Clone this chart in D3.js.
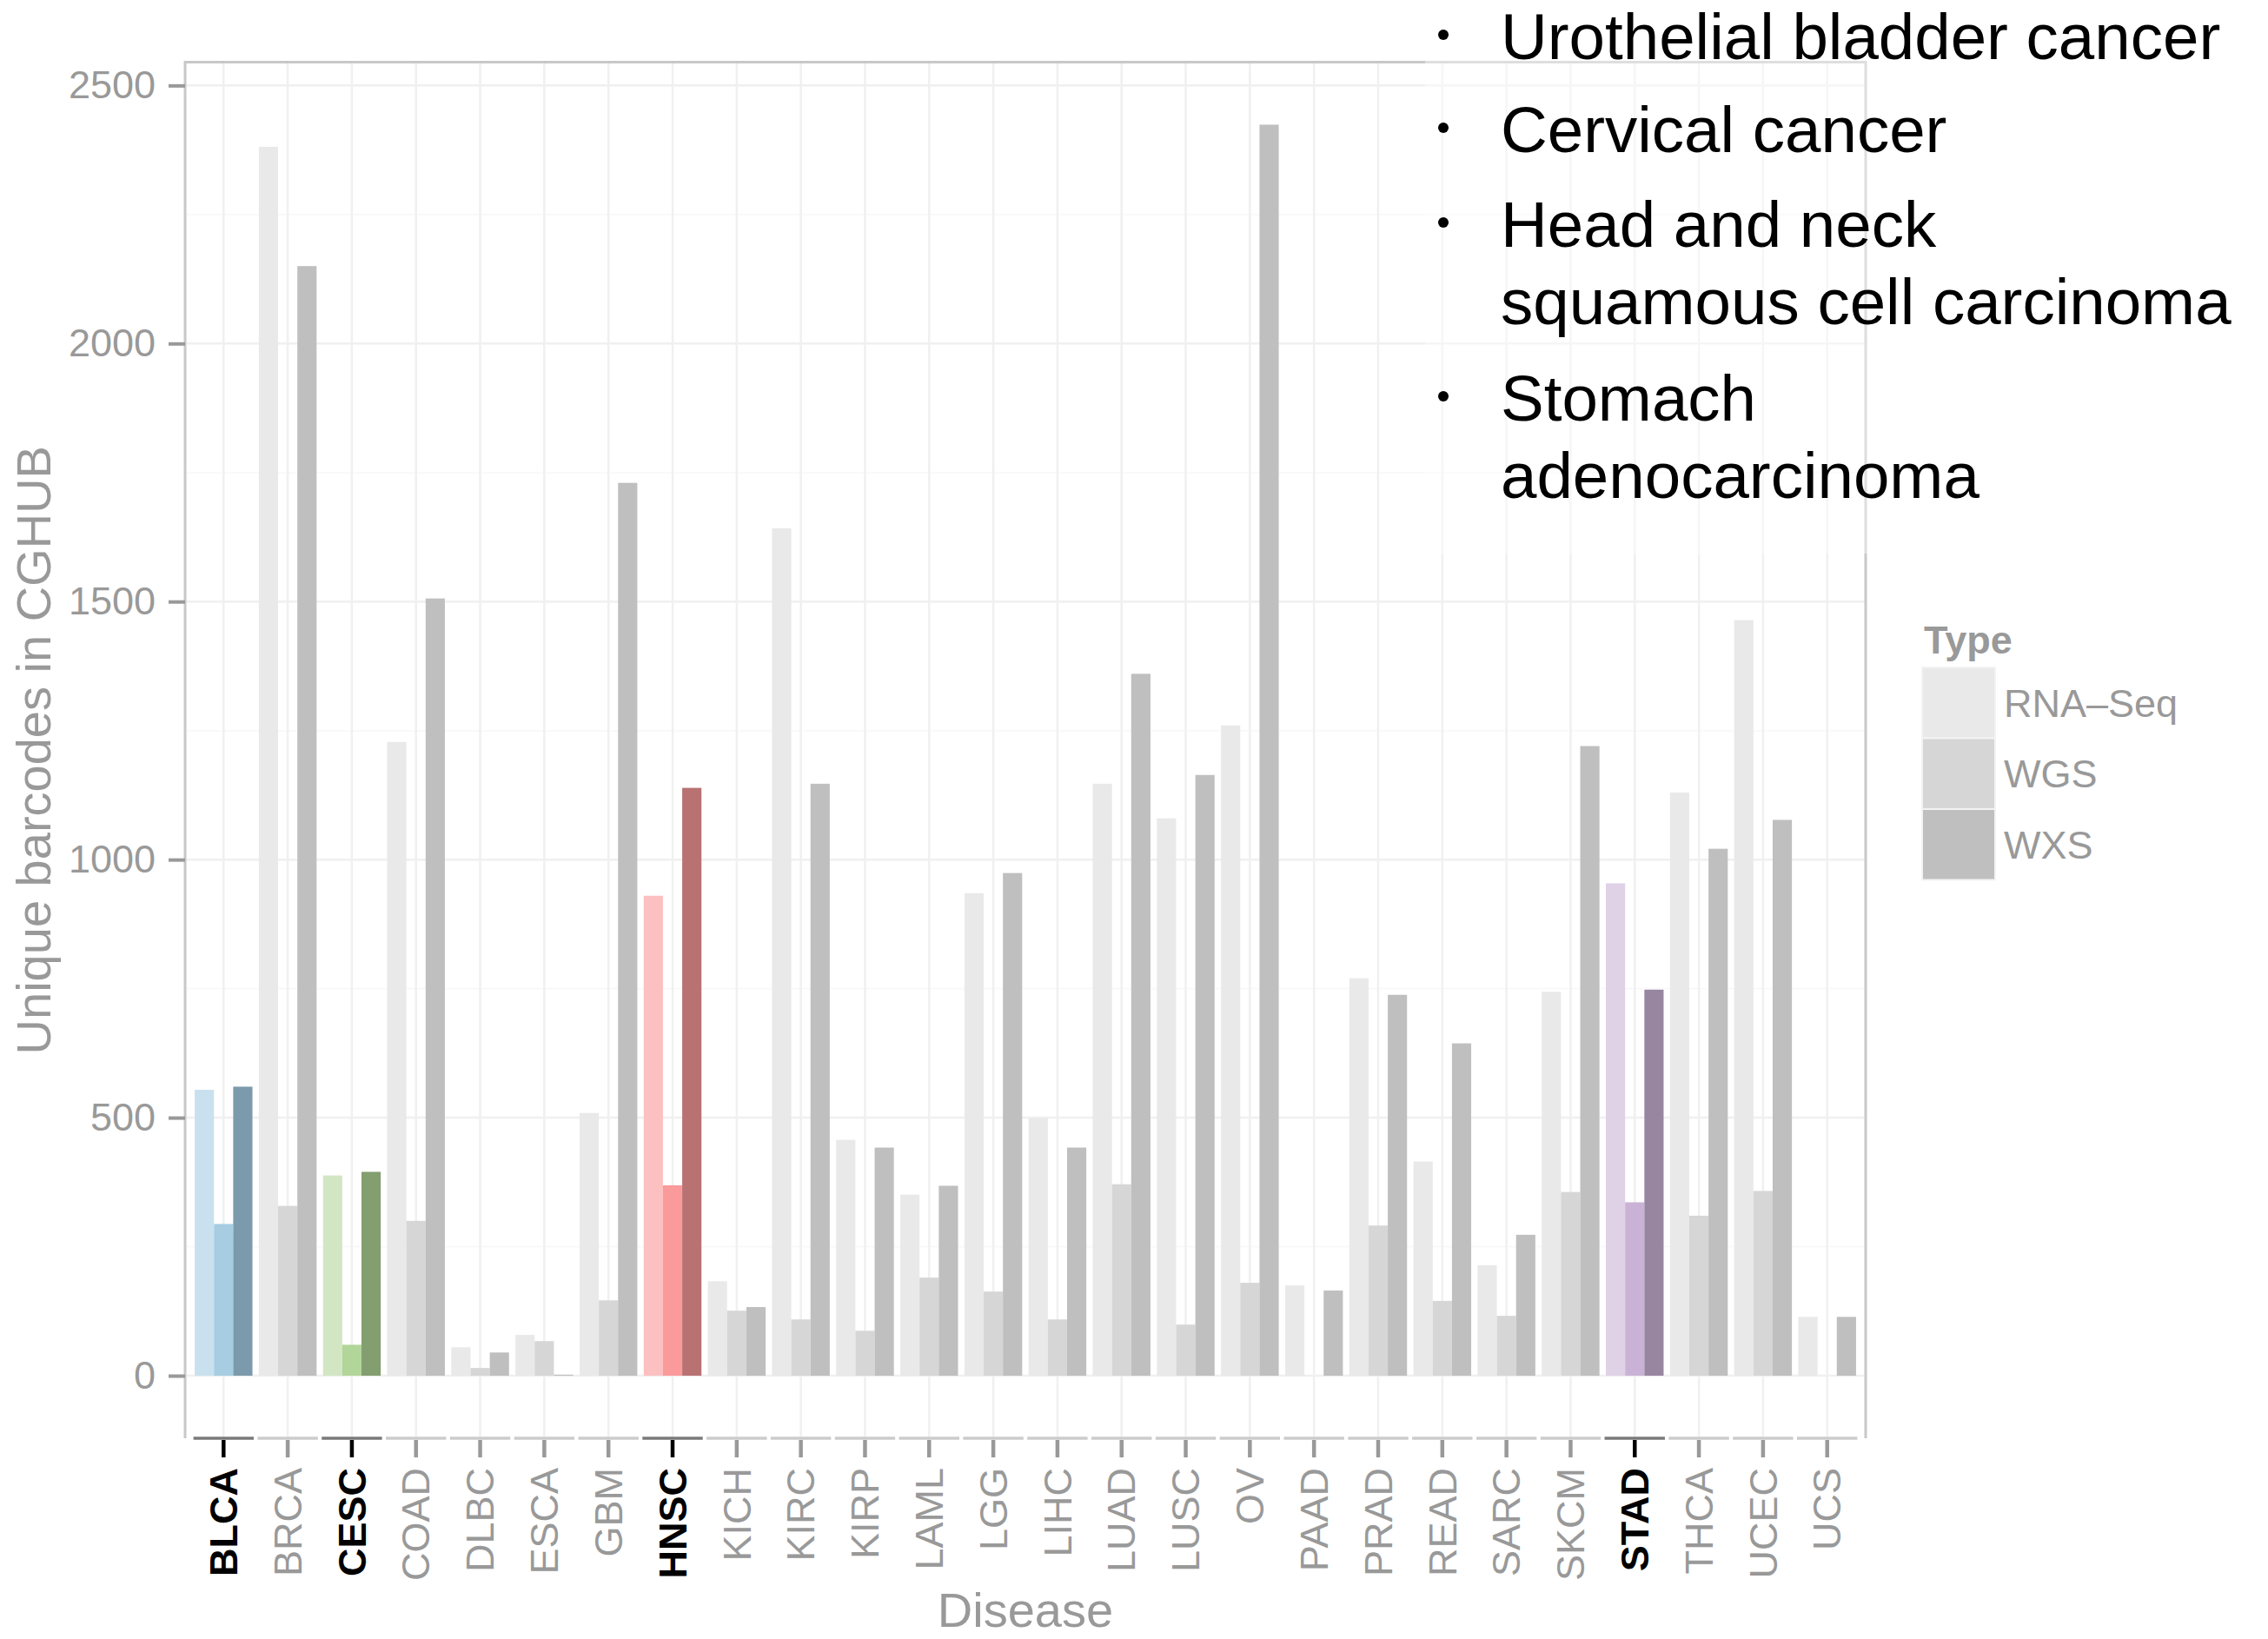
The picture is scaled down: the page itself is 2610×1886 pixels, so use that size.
<!DOCTYPE html>
<html>
<head>
<meta charset="utf-8">
<script src="https://cdn.jsdelivr.net/npm/d3@7"></script>
<style>
    body { margin: 0; background: #fff; }
    svg text { font-family: "Liberation Sans", Arial, Helvetica, sans-serif; }
</style>
</head>
<body>
<div id="barchart"></div>
<script>

// data
var diseases = ["BLCA", "BRCA", "CESC", "COAD", "DLBC", "ESCA", "GBM", "HNSC", "KICH", "KIRC", "KIRP", "LAML", "LGG",
    "LIHC", "LUAD", "LUSC", "OV", "PAAD", "PRAD", "READ", "SARC", "SKCM", "STAD", "THCA", "UCEC", "UCS"];
var types = ["RNA-Seq", "WGS", "WXS"];
var typeLabels = ["RNA\u2013Seq", "WGS", "WXS"];

var rnaSeq = [554, 2381, 388, 1228, 55, 79, 509, 930, 183, 1642, 457, 351, 935,
    499, 1147, 1080, 1260, 175, 770, 415, 214, 744, 954, 1130, 1464, 114];
var wgs = [294, 329, 60, 300, 15, 67, 146, 369, 126, 109, 87, 190, 163,
    109, 371, 99, 180, 0, 291, 145, 116, 356, 336, 310, 358, 0];
var wxs = [560, 2150, 395, 1506, 45, 2, 1730, 1139, 133, 1147, 442, 368, 974,
    442, 1360, 1164, 2424, 165, 738, 644, 273, 1220, 748, 1021, 1077, 114];

var highlighted = ["BLCA", "CESC", "HNSC", "STAD"];

var yTicks = [0, 500, 1000, 1500, 2000, 2500];
var yMinor = [250, 750, 1250, 1750, 2250];

var notes = [
    ["Urothelial bladder cancer"],
    ["Cervical cancer"],
    ["Head and neck", "squamous cell carcinoma"],
    ["Stomach", "adenocarcinoma"]
];

// fills: grey for the rest, paired colours for the highlighted ones
var greyFill = ["#e9e9e9", "#d6d6d6", "#bfbfbf"];
var highlightFill = {
    BLCA: ["#c9e1ee", "#a6cde2", "#7b9aab"],
    CESC: ["#d2e6c4", "#b2d59a", "#839e6f"],
    HNSC: ["#fcc0c0", "#fa9a9a", "#b87272"],
    STAD: ["#dfd1e6", "#cab2d6", "#9886a1"]
};


BarChart = function(_parentElement){
    this.parentElement = _parentElement;
    this.displayData = [];

    this.initVis();
}

BarChart.prototype.initVis = function(){
    var vis = this;

    vis.panel = { left: 213, right: 2147, top: 71.5, bottom: 1655 };

    vis.svg = d3.select("#" + vis.parentElement).append("svg")
        .attr("width", 2610)
        .attr("height", 1886);

    vis.x = d3.scaleBand()
        .domain(diseases)
        .range([vis.panel.left, vis.panel.right])
        .paddingInner(0.1)
        .paddingOuter(0.15);

    vis.xSub = d3.scaleBand()
        .domain(types)
        .range([0, vis.x.bandwidth()]);

    vis.wrangleData();
}

BarChart.prototype.wrangleData = function(){
    var vis = this;

    vis.displayData = [];
    diseases.forEach(function(d, i){
        var vals = [rnaSeq[i], wgs[i], wxs[i]];
        types.forEach(function(t, j){
            vis.displayData.push({ disease: d, type: t, idx: j, value: vals[j] });
        });
    });

    var maxV = d3.max(vis.displayData, function(d) { return d.value; });
    vis.y = d3.scaleLinear()
        .domain([-0.05 * maxV, 1.05 * maxV])
        .range([vis.panel.bottom, vis.panel.top]);

    vis.updateVis();
}

BarChart.prototype.updateVis = function(){
    var vis = this;
    var p = vis.panel;
    var step = vis.x.step();

    // grid
    var grid = vis.svg.append("g").attr("class", "grid");

    grid.selectAll(".minor")
        .data(yMinor)
        .enter().append("line")
        .attr("x1", p.left).attr("x2", p.right)
        .attr("y1", function(d) { return vis.y(d); })
        .attr("y2", function(d) { return vis.y(d); })
        .style("stroke", "#f9f9f9")
        .style("stroke-width", 2);

    grid.selectAll(".major")
        .data(yTicks)
        .enter().append("line")
        .attr("x1", p.left).attr("x2", p.right)
        .attr("y1", function(d) { return vis.y(d); })
        .attr("y2", function(d) { return vis.y(d); })
        .style("stroke", "#f0f0f0")
        .style("stroke-width", 2.5);

    grid.selectAll(".vert")
        .data(diseases)
        .enter().append("line")
        .attr("x1", function(d) { return vis.x(d) + vis.x.bandwidth() / 2; })
        .attr("x2", function(d) { return vis.x(d) + vis.x.bandwidth() / 2; })
        .attr("y1", p.top).attr("y2", p.bottom)
        .style("stroke", "#f0f0f0")
        .style("stroke-width", 2.5);

    // bars
    vis.svg.append("g").attr("class", "bars")
        .selectAll("rect")
        .data(vis.displayData)
        .enter().append("rect")
        .attr("x", function(d) { return vis.x(d.disease) + vis.xSub(d.type); })
        .attr("width", vis.xSub.bandwidth())
        .attr("y", function(d) { return vis.y(d.value); })
        .attr("height", function(d) { return vis.y(0) - vis.y(d.value); })
        .attr("fill", function(d) {
            return highlightFill[d.disease] ? highlightFill[d.disease][d.idx] : greyFill[d.idx];
        });

    // panel border (left, top, right)
    vis.svg.append("path")
        .attr("d", "M" + p.left + "," + p.bottom + "V" + p.top + "H" + p.right + "V" + p.bottom)
        .attr("fill", "none")
        .style("stroke", "#c8c8c8")
        .style("stroke-width", 3);

    // bottom segments, one per disease
    vis.svg.append("g").selectAll("line")
        .data(diseases)
        .enter().append("line")
        .attr("x1", function(d) { return vis.x(d) + vis.x.bandwidth() / 2 - 0.47 * step; })
        .attr("x2", function(d) { return vis.x(d) + vis.x.bandwidth() / 2 + 0.47 * step; })
        .attr("y1", p.bottom).attr("y2", p.bottom)
        .style("stroke", function(d) { return highlighted.indexOf(d) >= 0 ? "#7a7a7a" : "#cccccc"; })
        .style("stroke-width", 3.5);

    // axes
    vis.yAxis = d3.axisLeft(vis.y)
        .tickValues(yTicks)
        .tickFormat(d3.format("d"))
        .tickSize(19)
        .tickPadding(15);

    var yg = vis.svg.append("g")
        .attr("class", "y-axis axis")
        .attr("transform", "translate(" + p.left + ",0)")
        .call(vis.yAxis);
    yg.select(".domain").remove();
    yg.selectAll("line").style("stroke", "#999").style("stroke-width", 4);
    yg.selectAll("text")
        .style("font-size", "45px")
        .style("fill", "#999")
        .style("font-family", "'Liberation Sans', Arial, sans-serif");

    vis.xAxis = d3.axisBottom(vis.x)
        .tickSize(20);

    var xg = vis.svg.append("g")
        .attr("class", "x-axis axis")
        .attr("transform", "translate(0," + (p.bottom + 2) + ")")
        .call(vis.xAxis);
    xg.select(".domain").remove();
    xg.selectAll("line")
        .style("stroke", function(d) { return highlighted.indexOf(d) >= 0 ? "#000" : "#999"; })
        .style("stroke-width", 4.5);
    xg.selectAll("text")
        .attr("y", 0)
        .attr("x", -32)
        .attr("dy", "0.35em")
        .attr("transform", "rotate(-90)")
        .style("text-anchor", "end")
        .style("font-size", "45px")
        .style("font-family", "'Liberation Sans', Arial, sans-serif")
        .style("font-weight", function(d) { return highlighted.indexOf(d) >= 0 ? "bold" : "normal"; })
        .style("fill", function(d) { return highlighted.indexOf(d) >= 0 ? "#000" : "#999"; });

    // axis titles
    vis.svg.append("text")
        .attr("transform", "translate(58," + ((p.top + p.bottom) / 2) + ") rotate(-90)")
        .style("text-anchor", "middle")
        .style("font-size", "56px")
        .style("fill", "#999")
        .text("Unique barcodes in CGHUB");

    vis.svg.append("text")
        .attr("x", (p.left + p.right) / 2)
        .attr("y", 1872)
        .style("text-anchor", "middle")
        .style("font-size", "56px")
        .style("fill", "#999")
        .text("Disease");

    // legend
    var legend = vis.svg.append("g").attr("transform", "translate(2212,718)");
    legend.append("text")
        .attr("x", 2).attr("y", 34)
        .style("font-size", "45px")
        .style("font-weight", "bold")
        .style("fill", "#999")
        .text("Type");

    var keys = legend.selectAll(".key")
        .data(typeLabels)
        .enter().append("g")
        .attr("transform", function(d, i) { return "translate(0," + (50 + i * 81.5) + ")"; });
    keys.append("rect")
        .attr("width", 84).attr("height", 81.5)
        .attr("fill", function(d, i) { return greyFill[i]; })
        .style("stroke", "#f3f3f3")
        .style("stroke-width", 2);
    keys.append("text")
        .attr("x", 94).attr("y", 41)
        .attr("dy", "0.35em")
        .style("font-size", "45px")
        .style("fill", "#999")
        .text(function(d) { return d; });

    // the note box pasted over the top right corner
    vis.svg.append("rect")
        .attr("x", 1640).attr("y", 0)
        .attr("width", 970).attr("height", 637)
        .attr("fill", "#fff")
        .attr("opacity", 0.4);

    var baselines = [68, 175, 284, 484];
    var lineGap = 89;
    var noteG = vis.svg.append("g").attr("class", "notes");
    notes.forEach(function(lines, i){
        noteG.append("circle")
            .attr("cx", 1661)
            .attr("cy", baselines[i] - 28)
            .attr("r", 6)
            .attr("fill", "#000");
        lines.forEach(function(l, j){
            noteG.append("text")
                .attr("x", 1727)
                .attr("y", baselines[i] + j * lineGap)
                .style("font-size", "74.5px")
                .style("fill", "#000")
                .text(l);
        });
    });
}

var chart = new BarChart("barchart");

</script>
</body>
</html>
